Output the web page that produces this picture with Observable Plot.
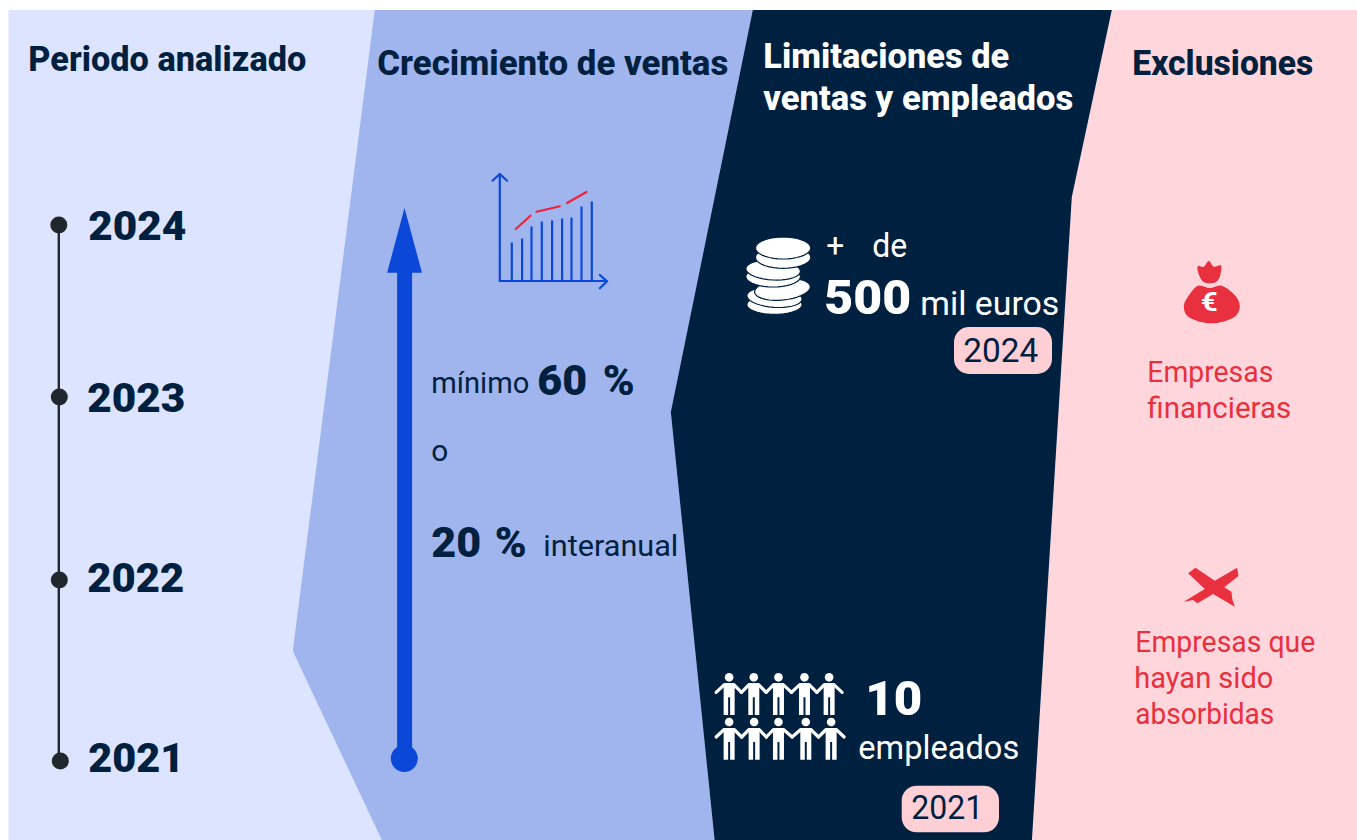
<!DOCTYPE html>
<html lang="es">
<head>
<meta charset="utf-8">
<script src="https://cdn.jsdelivr.net/npm/d3@7"></script>
<script src="https://cdn.jsdelivr.net/npm/@observablehq/plot@0.6"></script>
<style>
html,body{margin:0;padding:0;background:#fff;overflow:hidden}
svg{display:block}
</style>
</head>
<body>
<div id="chart"></div>
<script>
// ---- content ----
const headers = ["Periodo analizado", "Crecimiento de ventas", "Limitaciones de", "ventas y empleados", "Exclusiones"];
const years = [2024, 2023, 2022, 2021];
const growthLabels = ["mínimo", "60 %", "o", "20 %", "interanual"];
const limitLabels = ["+", "de", "500", "mil euros", "10", "empleados"];
const limitYears = ["2024", "2021"];
const exclusionLabels = ["Empresas", "financieras", "Empresas que", "hayan sido", "absorbidas"];
const iconBarHeights = [38, 42, 54, 59, 60, 62, 63, 74, 79];

// ---- palette ----
const NAVY = "#00203F", LIGHT = "#DCE4FF", MID = "#A0B5EE", PINK = "#FFD6DB", PILL = "#FFCFD6",
      BLUE = "#0B48D8", RED = "#E8303F", DARK = "#20282E", FONT = "Roboto, sans-serif";

// ---- layout helpers (page space) ----
const poly = (pts, fill, extra = {}) =>
  Plot.line(pts, {x: d => d[0], y: d => d[1], fill, stroke: "none", curve: "linear", ...extra});
const seg = (pts, stroke, strokeWidth, extra = {}) =>
  Plot.line(pts, {x: d => d[0], y: d => d[1], stroke, strokeWidth, curve: "linear", strokeLinecap: "round", strokeLinejoin: "round", ...extra});
const ell = (cx, cy, rx, ry, deg = 0) => {
  const a = deg * Math.PI / 180;
  return d3.range(0, 361, 10).map(t => {
    const u = t * Math.PI / 180, X = rx * Math.cos(u), Y = ry * Math.sin(u);
    return [cx + X * Math.cos(a) - Y * Math.sin(a), cy + X * Math.sin(a) + Y * Math.cos(a)];
  });
};
const label = (text, x1, x2, base, size, weight, fill, wordGap = null) =>
  Plot.text([text], {
    x: () => x1 - 0.5, y: () => base - 0.3, text: d => d, textAnchor: "start", lineAnchor: "bottom",
    fontSize: size, fontWeight: weight, fontFamily: FONT, fill,
    render(i, s, v, d, c, next) {
      const g = next(i, s, v, d, c);
      g.querySelectorAll("text").forEach(t => {
        if (wordGap !== null) {
          t.style.wordSpacing = wordGap + "px";
        } else {
          t.setAttribute("textLength", x2 - x1 + 1);
          t.setAttribute("lengthAdjust", "spacingAndGlyphs");
        }
      });
      return g;
    }
  });

// panels
const panels = [
  poly([[375,10],[753,10],[671,412],[715,842],[383,842],[293,651]], MID),
  poly([[1112,10],[1360,10],[1360,842],[1032,842],[1072,197]], PINK),
  poly([[753,10],[1112,10],[1072,197],[1032,842],[715,842],[671,412]], NAVY)
];

// timeline
const yearY = new Map([[2024,225],[2023,397],[2022,580],[2021,761]]);
const dotX = new Map([[2024,59],[2023,59.5],[2022,59.5],[2021,60.5]]);
const yearX = new Map([[2024,[89,186,240]],[2023,[88,185,412]],[2022,[88,184,592]],[2021,[89,184,772]]]);
const timeline = [
  seg(years.map(y => [59, yearY.get(y)]), DARK, 2.4),
  Plot.dot(years, {x: d => dotX.get(d), y: d => yearY.get(d), r: 8.5, fill: DARK}),
  ...years.map(y => label(String(y), yearX.get(y)[0], yearX.get(y)[1], yearX.get(y)[2], 41, 900, NAVY))
];

// growth arrow
const arrow = [
  poly([[404.7,208],[422.2,272.7],[412.3,272.7],[412.3,760],[397.3,760],[397.3,272.7],[387.3,272.7]], BLUE),
  Plot.dot([0], {x: () => 404.5, y: () => 758.5, r: 13.5, fill: BLUE})
];

// mini-chart icon
const iconX = [512,522.3,531.7,542,552.3,562.3,571.7,581.7,592];
const icon = [
  Plot.ruleX(iconBarHeights, {x: (d,i) => iconX[i], y1: () => 281, y2: d => 281 - d, stroke: BLUE, strokeWidth: 2.2}),
  seg([[500,281],[500,174]], BLUE, 2.2),
  seg([[492.7,180.7],[500,174],[507.3,180.7]], BLUE, 2.2),
  seg([[500,281],[607,281]], BLUE, 2.2),
  seg([[600,275],[607.3,281.3],[600,288.3]], BLUE, 2.2),
  seg([[516,229],[530.7,215.7]], "#F0233A", 2.2),
  seg([[536.7,211.7],[560,206.3]], "#F0233A", 2.2),
  seg([[567.3,203],[586.7,192]], "#F0233A", 2.2)
];

// coins
const coin = (zx, zy, zrx, zry, deg = 0) =>
  poly(ell(730 + zx/3, 220 + zy/3, zrx/3, zry/3, deg), "#fff", {stroke: NAVY, strokeWidth: 1.2});
const coins = [
  coin(134,254,83,29), coin(134,232,83,30,4), coin(158,208,84,32,-6), coin(130,170,82,31),
  coin(130,150,82,30,3), coin(160,112,83,33), coin(160,84,83,33)
];

// people
const person = (hx, hy, hands) => {
  return [
    poly([[-5.5,6],[5.5,6],[5.5,37.7],[1,37.7],[1,20],[-1,20],[-1,37.7],[-5.5,37.7]].map(p => [hx+p[0], hy+p[1]]), "#fff"),
    seg([[hx+hands[0], hy+15],[hx-5,hy+7.5],[hx+5,hy+7.5],[hx+hands[1], hy+15]], "#fff", 3.2),
    Plot.dot([0], {x: () => hx, y: () => hy, r: 4.3, fill: "#fff"})
  ];
};
const row = (zx, zy) => zx.flatMap((z, i) => {
  const hx = 700 + z/3;
  const l = i === 0 ? -13 : -(z - zx[i-1]) / 6;
  const r = i === zx.length-1 ? 13 : (zx[i+1] - z) / 6;
  return person(hx, 660 + zy/3, [l, r]);
});
const people = [...row([88,162,236,314,388], 52), ...row([88,163,236,318,394], 186)];

// pills
const pill = (x1,x2,y1,y2) => Plot.rect([0], {x1: () => x1, x2: () => x2, y1: () => y1, y2: () => y2, fill: PILL, rx: 15});

// money bag (icon px from zoomed view)
const bz = p => [1130 + p[0]/3, 250 + p[1]/3];
const bag = [
  poly([[205,107],[240,114],[275,107],[315,135],[330,170],[310,203],[245,220],[180,203],[162,170],[178,135]].map(bz), RED, {curve: "cardinal-closed"}),
  poly([[203,50],[222,50],[237,33],[252,50],[274,47],[270,80],[258,96],[240,100],[222,96],[210,80]].map(bz), RED, {curve: "cardinal-closed"}),
  label("€", 1201.5, 1217.5, 311, 25, 700, "#fff")
];

// cross icon
const xz = p => [1130 + p[0]/3, 550 + p[1]/3];
const cross = poly([[175,70],[197,53],[255,92],[322,53],[326,78],[283,112],[305,125],[308,150],[315,170],[250,132],[203,160],[190,150],[162,155],[225,117]].map(xz), RED);

const plot = Plot.plot({
  width: 1357, height: 840,
  marginTop: 0, marginRight: 0, marginBottom: 0, marginLeft: 0,
  x: {domain: [0.7,1357.7], range: [0,1357], axis: null},
  y: {domain: [0.5,840.5], range: [0,840], axis: null},
  style: {background: "#fff", fontFamily: FONT},
  marks: [
    Plot.rect([0], {x1: () => 9.2, x2: () => 1360, y1: () => 10.5, y2: () => 842, fill: LIGHT}),
    ...panels,
    ...timeline,
    ...arrow,
    ...icon,
    ...coins,
    ...people,
    pill(954.7,1052.7,327.5,374.5),
    pill(902.4,999.7,786.2,832.8),
    ...bag,
    cross,

    label(headers[0], 29, 306, 71, 35, 800, NAVY),
    label(headers[1], 378, 728, 75, 35, 800, NAVY),
    label(headers[2], 764, 1009, 68, 35, 800, "#fff"),
    label(headers[3], 764, 1073, 110, 35, 800, "#fff"),
    label(headers[4], 1133, 1313, 75, 35, 800, NAVY),

    label(growthLabels[0], 432, 529, 393, 29, 400, NAVY),
    label(growthLabels[1], 538, 640, 395, 43, 900, NAVY, 5),
    label(growthLabels[2], 432, 448, 461, 29, 400, NAVY),
    label(growthLabels[3], 432, 531, 557, 43, 900, NAVY, 3),
    label(growthLabels[4], 544, 678, 556, 29, 400, NAVY),

    label(limitLabels[0], 827, 844, 257, 33, 400, "#fff"),
    label(limitLabels[1], 873, 907, 257, 33, 400, "#fff"),
    label(limitLabels[2], 825, 911, 314, 48, 900, "#fff"),
    label(limitLabels[3], 921, 1059, 315, 33, 400, "#fff"),
    label(limitLabels[4], 866, 922, 715, 48, 900, "#fff"),
    label(limitLabels[5], 859, 1019, 759, 34, 400, "#fff"),
    label(limitYears[0], 964, 1038, 362, 33, 400, NAVY),
    label(limitYears[1], 912, 983, 819, 33, 400, NAVY),

    label(exclusionLabels[0], 1148, 1273, 382, 30, 400, RED),
    label(exclusionLabels[1], 1148, 1291, 418, 30, 400, RED),
    label(exclusionLabels[2], 1136, 1315, 652, 30, 400, RED),
    label(exclusionLabels[3], 1135, 1273, 688, 30, 400, RED),
    label(exclusionLabels[4], 1136, 1274, 724, 30, 400, RED)
  ]
});
document.getElementById("chart").append(plot);
</script>
</body>
</html>
